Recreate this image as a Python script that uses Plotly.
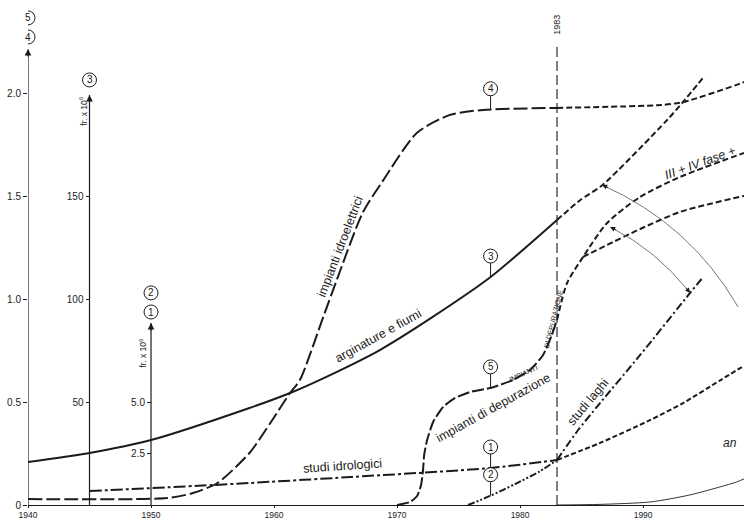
import numpy as np
import plotly.graph_objects as go

# ---------------- axes ----------------
X_MIN, X_MAX = 1940, 1998.2
Y_MAX = 2.457            # axis 4/5 : fr x 10^9
S3 = 100                 # axis 3   : fr x 10^6 (50 <-> 0.5)
S12 = 10                 # axis 1/2 : fr x 10^6 (5.0 <-> 0.5)
x_ticks = [1940, 1950, 1960, 1970, 1980, 1990]
y_ticks = [0, 0.5, 1.0, 1.5, 2.0]
y_ticktext = ["0", "0.5", "1.0", "1.5", "2.0"]
y3_ticks = [50, 100, 150]
y12_ticks = [2.5, 5.0]
y12_ticktext = ["2.5", "5.0"]
YEAR_REF = 1983

# ---------------- series ----------------
# 4 - impianti idroelettrici (fr x 10^9)
idro_years = [1940.0, 1951.3, 1953.4, 1955.4, 1958.0, 1959.7, 1961.3, 1962.1, 1964.0,
              1965.1, 1967.2, 1968.9, 1971.6, 1974.3, 1977.0, 1983.0]
idro_vals = [0.029, 0.034, 0.058, 0.107, 0.253, 0.399, 0.545, 0.608, 0.915,
             1.095, 1.421, 1.582, 1.810, 1.898, 1.922, 1.932]
idro_proj_years = [1983.0, 1991.4, 1993.3, 1997.6, 1998.2]
idro_proj_vals = [1.932, 1.946, 1.961, 2.044, 2.058]

# 3 - arginature e fiumi (fr x 10^6)
argin_years = [1940.0, 1945.0, 1950.0, 1958.0, 1961.3, 1964.3, 1968.6, 1972.9, 1977.6, 1983.0]
argin_vals = [20.9, 25.3, 31.6, 47.2, 54.5, 62.5, 75.4, 91.5, 110.9, 138.7]
argin_proj_years = [1983.0, 1984.9, 1986.7, 1991.95, 1993.25, 1995.0]
argin_proj_vals = [138.7, 148.4, 155.7, 187.3, 196.1, 208.8]

# 5 - impianti di depurazione (fr x 10^9)
dep_years = [1970.0, 1971.06, 1971.63, 1971.95, 1972.11, 1972.2, 1972.44, 1972.93, 1973.74,
             1974.72, 1975.93, 1977.56, 1979.43, 1980.81, 1981.87, 1982.52, 1983.0]
dep_vals = [0.0, 0.015, 0.044, 0.097, 0.170, 0.243, 0.316, 0.404, 0.477,
            0.521, 0.550, 0.569, 0.608, 0.657, 0.730, 0.818, 0.900]
dep_up_years = [1983.0, 1983.82, 1985.12, 1987.07, 1989.76, 1993.0, 1998.2]
dep_up_vals = [0.900, 1.080, 1.207, 1.372, 1.499, 1.596, 1.713]
dep_low_years = [1985.12, 1986.9, 1989.76, 1993.0, 1998.2]
dep_low_vals = [1.207, 1.260, 1.343, 1.426, 1.504]

# 1 - studi idrologici (fr x 10^6)
idrol_years = [1945.0, 1955.0, 1958.0, 1966.2, 1977.6, 1983.0]
idrol_vals = [0.68, 0.97, 1.07, 1.36, 1.80, 2.19]
idrol_proj_years = [1983.0, 1986.5, 1990.6, 1993.25, 1996.3, 1998.2]
idrol_proj_vals = [2.19, 3.02, 4.14, 4.96, 6.08, 6.77]

# 2 - studi laghi (fr x 10^6)
laghi_years = [1975.77, 1977.56, 1979.59, 1981.63, 1983.0]
laghi_vals = [0.0, 0.44, 1.02, 1.65, 2.19]
laghi_proj_years = [1983.0, 1984.72, 1986.5, 1989.76, 1993.82, 1994.88]
laghi_proj_vals = [2.19, 3.65, 4.96, 7.30, 10.32, 11.09]

# "an..." thin curve (fr x 10^9)
an_years = [1983.0, 1986.5, 1990.6, 1993.8, 1997.6, 1998.2]
an_vals = [0.0, 0.003, 0.015, 0.049, 0.112, 0.127]

INK = "#1b1b1b"
FONT = "Liberation Sans, Arial, sans-serif"
NARROW = "Liberation Sans Narrow, Liberation Sans, Arial, sans-serif"

fig = go.Figure()


def line(xs, ys, yaxis="y", dash="solid", width=2.0, color=INK, smooth=0.7):
    fig.add_trace(go.Scatter(x=xs, y=ys, yaxis=yaxis, mode="lines",
                             line=dict(color=color, width=width, dash=dash,
                                       shape="spline", smoothing=smooth),
                             hoverinfo="skip", showlegend=False))


line(idro_years, idro_vals, "y", "14px,4px")
line(idro_proj_years, idro_proj_vals, "y", "6px,3px")
line(argin_years, argin_vals, "y2", "solid")
line(argin_proj_years, argin_proj_vals, "y2", "6px,3px")
line(dep_years, dep_vals, "y", "12px,3px", smooth=0.5)
line(dep_up_years, dep_up_vals, "y", "6px,3px")
line(dep_low_years, dep_low_vals, "y", "6px,3px")
line(idrol_years, idrol_vals, "y3", "12px,3px,3px,3px")
line(idrol_proj_years, idrol_proj_vals, "y3", "5px,2.5px")
line(laghi_years, laghi_vals, "y3", "7px,2px,2px,2px,2px,2px")
line(laghi_proj_years, laghi_proj_vals, "y3", "8px,3px,2px,3px")
line(an_years, an_vals, "y", "solid", width=1.0, color="#333")

shapes = []
annots = []

# vertical axes lines with arrow heads
axes_tops = [(1940, 2.219, "y"), (1945, 199.5, "y2"), (1950, 8.86, "y3")]
for ax_x, top, yr in axes_tops:
    shapes.append(dict(type="line", xref="x", yref=yr, x0=ax_x, x1=ax_x, y0=0, y1=top,
                       line=dict(color=INK, width=1.2)))
    annots.append(dict(x=ax_x, y=top, xref="x", yref=yr, text="", showarrow=True,
                       ax=0, ay=9, arrowhead=2, arrowsize=1.1, arrowwidth=1.2,
                       arrowcolor=INK))

# 1983 reference line
shapes.append(dict(type="line", xref="x", yref="y", x0=YEAR_REF, x1=YEAR_REF, y0=0, y1=2.248,
                   line=dict(color=INK, width=1.1, dash="10px,4px")))
annots.append(dict(x=YEAR_REF, y=2.336, xref="x", yref="y", text="1983", showarrow=False,
                   textangle=-90, font=dict(size=9, family=NARROW, color=INK)))


def circled(num, x, yval, yref, stem=True):
    off = 14 if stem else -7
    if stem:
        shapes.append(dict(type="line", xref="x", yref=yref, ysizemode="pixel", yanchor=yval,
                           x0=x, x1=x, y0=0, y1=14, line=dict(color=INK, width=1)))
    shapes.append(dict(type="circle", xref="x", yref=yref, xsizemode="pixel", ysizemode="pixel",
                       xanchor=x, yanchor=yval, x0=-7, x1=7, y0=off, y1=off + 14,
                       line=dict(color=INK, width=1), fillcolor="white"))
    annots.append(dict(x=x, y=yval, xref="x", yref=yref, yshift=off + 7, text=num,
                       showarrow=False, font=dict(size=10, family=FONT, color=INK)))


MARK_X = 1977.6
circled("4", MARK_X, float(np.interp(MARK_X, idro_years, idro_vals)), "y")
circled("3", MARK_X, float(np.interp(MARK_X, argin_years, argin_vals)), "y2")
circled("5", MARK_X, float(np.interp(MARK_X, dep_years, dep_vals)), "y")
circled("1", MARK_X, float(np.interp(MARK_X, idrol_years, idrol_vals)), "y3")
circled("2", MARK_X, float(np.interp(MARK_X, laghi_years, laghi_vals)), "y3")

# circled labels at the top of the axes
circled("5", 1940, 2.370, "y", stem=False)
circled("4", 1940, 2.277, "y", stem=False)
circled("3", 1945, 206.8, "y2", stem=False)
circled("2", 1950, 10.32, "y3", stem=False)
circled("1", 1950, 9.39, "y3", stem=False)

# axis unit labels
for tx, ty, yr, txt in [(1939.35, 2.13, "y", "fr. x 10<sup>9</sup>"),
                        (1944.5, 192.0, "y2", "fr. x 10<sup>6</sup>"),
                        (1949.4, 7.4, "y3", "fr. x 10<sup>6</sup>")]:
    annots.append(dict(x=tx, y=ty, xref="x", yref=yr, text=txt, showarrow=False,
                       textangle=-90, font=dict(size=8.5, family=NARROW, color=INK)))

# curve labels
labels = [
    ("impianti idroelettrici", 1965.37, 1.255, "y", -69, 12.5, False),
    ("arginature e fiumi", 1968.46, 0.822, "y", -29, 12.5, False),
    ("studi idrologici", 1965.6, 0.190, "y", -4, 12.5, False),
    ("impianti di depurazione", 1977.8, 0.472, "y", -29, 12.5, False),
    ("IMPIANTI", 1980.24, 0.642, "y", -25, 7, False),
    ("DI DEPURAZIONE", 1982.75, 0.905, "y", -76, 7, False),
    ("studi laghi", 1985.53, 0.501, "y", -50, 12.5, False),
    ("III + IV fase +", 1994.63, 1.664, "y", -20, 12.5, True),
    ("an", 1997.07, 0.302, "y", 0, 12, True),
]
for txt, x, y, yr, ang, fs, it in labels:
    t = f"<i>{txt}</i>" if it else txt
    annots.append(dict(x=x, y=y, xref="x", yref=yr, text=t, showarrow=False, textangle=ang,
                       font=dict(size=fs, family=FONT, color=INK)))

# thin curved arrows
arcs = [
    ((1986.67, 1.557), (1993.82, 1.367), (1997.72, 0.9635), [(7.3, 3.2, 0)]),
    ((1987.32, 1.353), (1991.06, 1.241), (1993.82, 1.032), [(7.2, 3.6, 0), (-5.0, -6.3, 2)]),
]
for p0, c, p2, heads in arcs:
    shapes.append(dict(type="path", xref="x", yref="y",
                       path=f"M {p0[0]},{p0[1]} Q {c[0]},{c[1]} {p2[0]},{p2[1]}",
                       line=dict(color="#6a6a6a", width=0.9)))
    for axo, ayo, idx in heads:
        pt = p0 if idx == 0 else p2
        annots.append(dict(x=pt[0], y=pt[1], xref="x", yref="y", text="", showarrow=True,
                           ax=axo, ay=ayo, arrowhead=2, arrowsize=1.0, arrowwidth=1.0,
                           arrowcolor=INK))

pos3 = (1945 - X_MIN) / (X_MAX - X_MIN)
pos12 = (1950 - X_MIN) / (X_MAX - X_MIN)
tick_font = dict(size=10, family=NARROW, color="#222")

fig.update_layout(
    width=744, height=519,
    margin=dict(l=28, r=0, t=0, b=14),
    paper_bgcolor="white", plot_bgcolor="white",
    showlegend=False,
    xaxis=dict(range=[X_MIN, X_MAX], tickvals=x_ticks, ticktext=[str(v) for v in x_ticks],
               ticks="outside", ticklen=2, tickcolor=INK, showline=True, linecolor=INK,
               linewidth=1.2, showgrid=False, zeroline=False,
               tickfont=dict(size=8.5, family=NARROW, color="#222")),
    yaxis=dict(range=[0, Y_MAX], tickvals=y_ticks, ticktext=y_ticktext, ticks="outside",
               ticklen=4, tickcolor=INK, showgrid=False, zeroline=False, showline=False,
               tickfont=tick_font),
    yaxis2=dict(range=[0, Y_MAX * S3], overlaying="y", anchor="free", position=pos3, side="left",
                tickvals=y3_ticks, ticks="outside", ticklen=4, tickcolor=INK, showgrid=False,
                zeroline=False, showline=False, tickfont=tick_font),
    yaxis3=dict(range=[0, Y_MAX * S12], overlaying="y", anchor="free", position=pos12, side="left",
                tickvals=y12_ticks, ticktext=y12_ticktext, ticks="outside", ticklen=4,
                tickcolor=INK, showgrid=False, zeroline=False, showline=False, tickfont=tick_font),
    shapes=shapes,
    annotations=annots,
)

fig.write_html("out.html", config={"displayModeBar": False},
               post_script="document.body.style.margin='0px';document.body.style.overflow='hidden';")
